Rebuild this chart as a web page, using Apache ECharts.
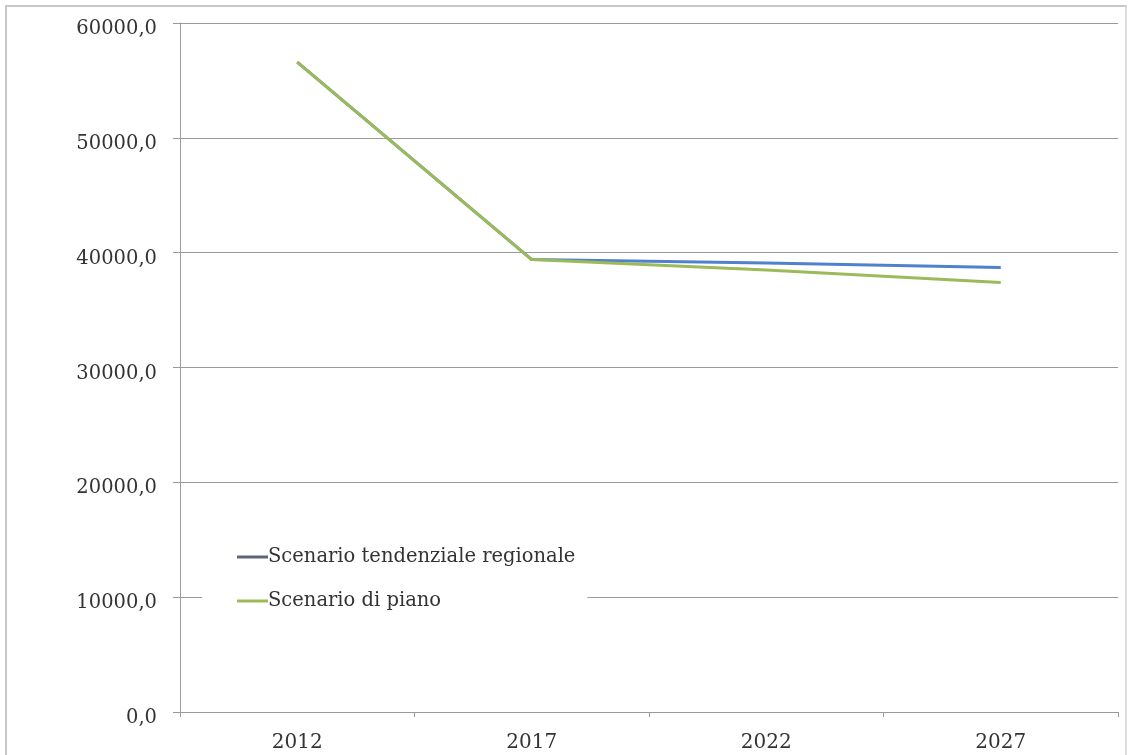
<!DOCTYPE html>
<html>
<head>
<meta charset="utf-8">
<script src="https://cdn.jsdelivr.net/npm/echarts@6/dist/echarts.min.js"></script>
<style>
html,body{margin:0;padding:0;background:#fff;}
#frame{position:absolute;left:5px;top:5px;width:1122px;height:760px;border-left:2px solid #c8c8c8;border-top:2px solid #c8c8c8;border-right:2px solid #dcdcdc;box-sizing:border-box;}
#chart{position:absolute;left:0;top:0;width:1132px;height:755px;}
</style>
</head>
<body>
<div id="frame"></div>
<div id="chart"></div>
<script>
const categories = ['2012', '2017', '2022', '2027'];
const tendenziale = [56600, 39400, 39100, 38700];
const piano = [56600, 39400, 38500, 37400];
const seriesNames = ['Scenario tendenziale regionale', 'Scenario di piano'];

const font = 'DejaVu Serif, Liberation Serif, serif';
const chart = echarts.init(document.getElementById('chart'), null, {renderer: 'canvas'});
chart.setOption({
  backgroundColor: 'transparent',
  animation: false,
  grid: {left: 180, right: 14, top: 23, bottom: 43, containLabel: false},
  legend: {
    orient: 'vertical',
    left: 202,
    top: 541,
    padding: [6, 12, 6, 35],
    backgroundColor: '#ffffff',
    itemGap: 24,
    itemWidth: 31,
    itemHeight: 3,
    icon: 'rect',
    textStyle: {fontFamily: font, fontSize: 19.5, color: '#333', padding: [0, 0, 0, -5]},
    data: [
      {name: seriesNames[0], itemStyle: {color: '#5d6578'}},
      {name: seriesNames[1], itemStyle: {color: '#9bbb59'}}
    ]
  },
  xAxis: {
    type: 'category',
    data: categories,
    boundaryGap: true,
    axisLine: {lineStyle: {color: '#9a9a9a', width: 1}},
    axisTick: {show: true, length: 5, lineStyle: {color: '#9a9a9a'}},
    axisLabel: {fontFamily: font, fontSize: 20, color: '#333', margin: 21}
  },
  yAxis: {
    type: 'value',
    min: 0, max: 60000, interval: 10000,
    axisLine: {show: true, lineStyle: {color: '#9a9a9a', width: 1}},
    axisTick: {show: true, length: 7, lineStyle: {color: '#9a9a9a'}},
    splitLine: {lineStyle: {color: '#9a9a9a', width: 1}},
    axisLabel: {
      fontFamily: font, fontSize: 19.5, color: '#333', margin: 23,
      verticalAlign: 'top', lineHeight: 12,
      formatter: v => v.toFixed(1).replace('.', ',')
    }
  },
  series: [
    {
      name: seriesNames[0], type: 'line', data: tendenziale,
      symbol: 'none', lineStyle: {color: '#4f81cf', width: 3},
      itemStyle: {color: '#4f81cf'}, z: 2
    },
    {
      name: seriesNames[1], type: 'line', data: piano,
      symbol: 'none', lineStyle: {color: '#9bbb59', width: 3},
      itemStyle: {color: '#9bbb59'}, z: 3
    }
  ]
});
</script>
</body>
</html>
